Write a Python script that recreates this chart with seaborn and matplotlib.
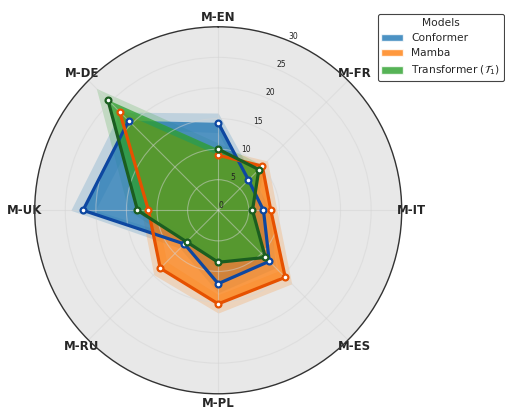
import numpy as np
import pandas as pd
import matplotlib
matplotlib.use("Agg")
import matplotlib.pyplot as plt
from matplotlib.patches import Patch
import seaborn as sns

categories = ['M-EN', 'M-FR', 'M-IT', 'M-ES', 'M-PL', 'M-RU', 'M-UK', 'M-DE']
conformer = [14.3, 7.0, 7.4, 11.8, 12.0, 7.8, 22.1, 20.7]
mamba = [9.0, 10.2, 8.6, 15.5, 15.3, 13.4, 11.4, 22.8]
transformer = [10.0, 9.4, 5.6, 10.9, 8.5, 7.3, 13.2, 25.5]
conformer_std = [1.6, 1.0, 1.0, 1.5, 1.5, 1.0, 2.0, 2.0]
mamba_std = [1.0, 1.2, 1.0, 1.5, 1.5, 1.5, 1.2, 1.5]
transformer_std = [1.0, 1.0, 0.8, 1.2, 1.0, 1.0, 1.5, 2.7]
models = ['Conformer', 'Mamba', 'Transformer ($\\mathcal{T}_1$)']
r_ticks = [0, 5, 10, 15, 20, 25, 30]

sns.set_style("white")
plt.rcParams['font.family'] = ['DejaVu Sans']

fill_colors = sns.color_palette("tab10", 3)
line_colors = ['#0D47A1', '#E65100', '#1B5E20']

fig = plt.figure(figsize=(5.06, 4.12), dpi=100)
ax = fig.add_axes([0.0686, 0.0442, 0.7253, 0.8908], projection='polar')
ax.set_facecolor('#e8e8e8')
ax.set_axisbelow(False)
ax.set_theta_zero_location('N')
ax.set_theta_direction(-1)

n = len(categories)
theta = np.arange(n) * 2 * np.pi / n
theta_c = np.append(theta, theta[0])

series = [conformer, mamba, transformer]
stds = [conformer_std, mamba_std, transformer_std]

for i, (vals, sd) in enumerate(zip(series, stds)):
    v = np.append(np.array(vals), vals[0])
    s = np.append(np.array(sd), sd[0])
    ax.fill_between(theta_c, v - s, v + s, color=fill_colors[i], alpha=0.2, linewidth=0, zorder=1)
    ax.fill(theta_c, v, color=fill_colors[i], alpha=0.75, linewidth=0, zorder=1.5)

for i, vals in enumerate(series):
    v = np.append(np.array(vals), vals[0])
    df = pd.DataFrame({'theta': theta_c, 'r': v})
    sns.lineplot(data=df, x='theta', y='r', sort=False, ax=ax, color=line_colors[i],
                 linewidth=2.3, marker='o', markersize=4.2, markerfacecolor='white',
                 markeredgecolor=line_colors[i], markeredgewidth=1.6, zorder=5 + i,
                 legend=False)

ax.set_xlabel('')
ax.set_ylabel('')
ax.set_xticks(theta)
ax.set_xticklabels(categories, fontsize=8.5, fontweight='bold')
ax.tick_params(axis='x', pad=-3.5)
ax.set_ylim(0, 30)
ax.set_yticks(r_ticks)
ax.set_yticklabels([str(t) for t in r_ticks], fontsize=5.5, color='#222222')
ax.set_rlabel_position(22.5)
ax.grid(True, color='#d4d4d4', linewidth=0.8, alpha=0.5)
ax.spines['polar'].set_color('#333333')
ax.spines['polar'].set_linewidth(1.0)
ax.spines['polar'].set_zorder(10)

handles = [Patch(facecolor=fill_colors[i], alpha=0.8, label=models[i]) for i in range(3)]
leg = fig.legend(handles=handles, title='Models', loc='upper right',
                 bbox_to_anchor=(504 / 506, (412 - 14) / 412), fontsize=7.7, title_fontsize=7.7,
                 frameon=True, edgecolor='#444444', framealpha=1.0, borderaxespad=0,
                 handlelength=2.0, borderpad=0.35, labelspacing=0.5)
leg.get_frame().set_linewidth(0.8)

fig.savefig('out.png', dpi=100)
